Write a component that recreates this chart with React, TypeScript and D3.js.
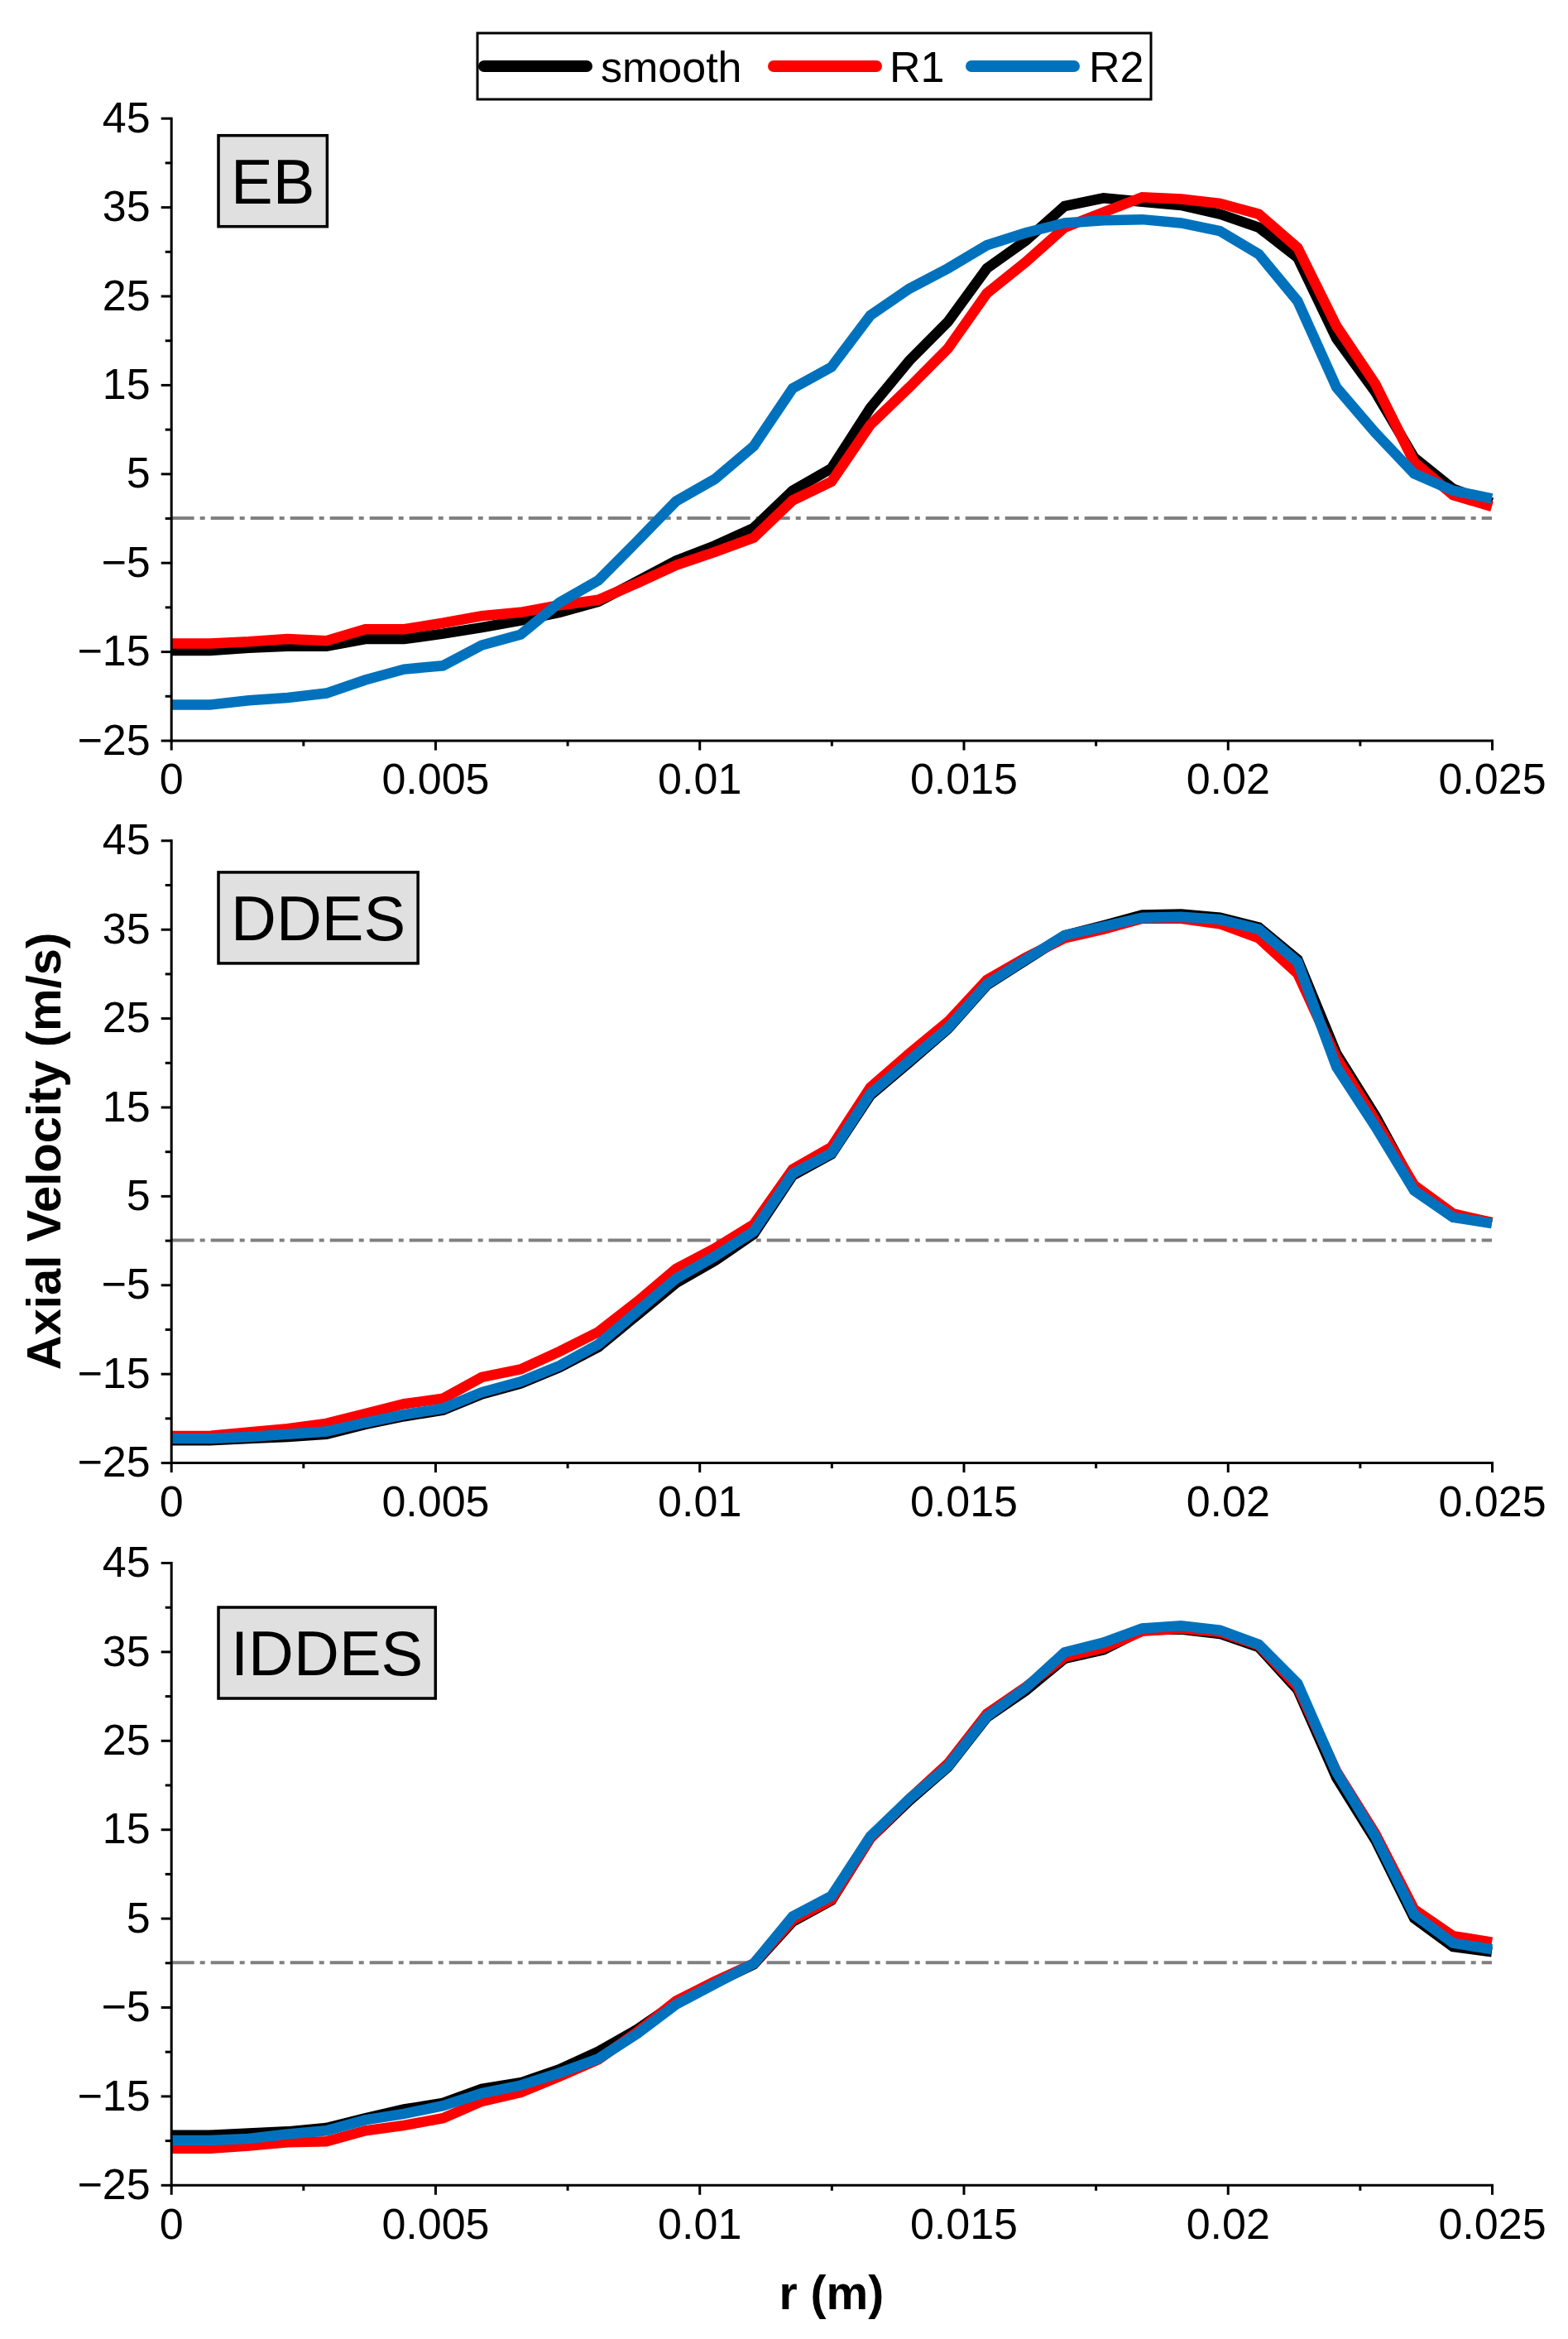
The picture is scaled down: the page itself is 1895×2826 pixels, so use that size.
import * as d3 from 'd3';
import { useEffect, useRef } from 'react';

// radial positions (m)
const rValues = [
  0, 0.000735, 0.00147, 0.002206, 0.002941, 0.003676, 0.004412, 0.005147, 0.005882, 0.006618, 0.007353, 0.008088,
  0.008824, 0.009559, 0.010294, 0.011029, 0.011765, 0.0125, 0.013235, 0.013971, 0.014706, 0.015441, 0.016176,
  0.016912, 0.017647, 0.018382, 0.019118, 0.019853, 0.020588, 0.021324, 0.022059, 0.022794, 0.023529, 0.024265, 0.025,
];

const seriesNames = ['smooth', 'R1', 'R2'];
const seriesColors = ['#000000', '#ff0000', '#0072bd'];
const panelNames = ['EB', 'DDES', 'IDDES'];

const ebSmooth = [
  -14.9, -14.9, -14.6, -14.4, -14.4, -13.6, -13.6, -13.0, -12.3, -11.5, -10.6, -9.4, -7.1, -4.8, -3.1, -1.1, 3.1, 5.6,
  12.4, 17.7, 22.1, 28.1, 31.2, 35.1, 36.0, 35.6, 35.2, 34.2, 32.7, 29.3, 20.2, 14.2, 6.8, 3.3, 1.7,
];
const ebR1 = [
  -14.1, -14.1, -13.9, -13.6, -13.8, -12.5, -12.5, -11.8, -11.0, -10.6, -9.8, -9.2, -7.3, -5.3, -3.8, -2.2, 2.0, 4.1,
  10.5, 14.7, 19.1, 25.3, 28.8, 32.7, 34.4, 36.1, 35.9, 35.4, 34.2, 30.4, 21.6, 15.1, 6.3, 2.6, 1.3,
];
const ebR2 = [
  -21.0, -21.0, -20.5, -20.2, -19.7, -18.2, -17.0, -16.6, -14.3, -13.1, -9.5, -7.0, -2.6, 1.9, 4.4, 8.1, 14.6, 17.0,
  22.8, 25.8, 28.1, 30.7, 32.1, 33.2, 33.5, 33.6, 33.2, 32.3, 29.7, 24.4, 14.7, 9.6, 5.0, 3.1, 2.2,
];

const ddesSmooth = [
  -22.5, -22.5, -22.3, -22.1, -21.8, -20.7, -19.8, -19.1, -17.3, -16.1, -14.3, -12.0, -8.4, -4.8, -2.3, 0.7, 7.3, 9.7,
  16.3, 20.0, 23.8, 28.7, 31.5, 34.3, 35.4, 36.6, 36.7, 36.3, 35.2, 31.6, 21.0, 14.0, 6.0, 2.8, 2.0,
];
const ddesR1 = [
  -22.0, -22.0, -21.6, -21.2, -20.6, -19.5, -18.4, -17.8, -15.4, -14.5, -12.5, -10.3, -6.9, -3.2, -0.9, 1.8, 8.0, 10.5,
  17.2, 21.0, 24.6, 29.3, 31.8, 34.0, 35.0, 36.2, 36.2, 35.6, 34.0, 30.0, 20.5, 13.5, 6.2, 3.0, 2.0,
];
const ddesR2 = [
  -22.3, -22.3, -22.1, -21.8, -21.5, -20.5, -19.6, -18.9, -17.1, -15.9, -14.1, -11.7, -8.0, -4.3, -1.8, 1.0, 7.5, 9.8,
  16.5, 20.2, 23.9, 28.8, 31.6, 34.3, 35.3, 36.3, 36.4, 36.1, 35.0, 31.3, 19.5, 12.8, 5.6, 2.6, 1.9,
];

const iddesSmooth = [
  -19.4, -19.4, -19.2, -19.0, -18.6, -17.5, -16.5, -15.8, -14.2, -13.5, -12.0, -10.0, -7.5, -4.5, -2.3, -0.2, 4.6, 7.0,
  14.0, 18.2, 22.0, 27.6, 30.6, 34.2, 35.2, 37.4, 37.5, 37.0, 35.5, 30.7, 20.8, 13.8, 5.0, 1.8, 1.2,
];
const iddesR1 = [
  -20.9, -20.9, -20.6, -20.2, -20.1, -18.9, -18.3, -17.5, -15.6, -14.6, -12.8, -10.9, -7.8, -4.3, -2.1, -0.1, 4.8, 7.1,
  14.0, 18.4, 22.4, 28.0, 31.0, 34.4, 35.4, 37.3, 37.6, 37.2, 35.7, 31.0, 21.5, 14.5, 6.0, 3.0, 2.3,
];
const iddesR2 = [
  -20.0, -20.0, -19.8, -19.3, -18.9, -17.7, -17.0, -16.1, -14.7, -13.8, -12.4, -10.8, -8.0, -4.7, -2.4, -0.1, 5.2, 7.5,
  14.2, 18.4, 22.1, 27.7, 30.9, 34.9, 36.0, 37.6, 37.9, 37.4, 35.8, 31.4, 21.4, 14.2, 5.4, 2.2, 1.5,
];

const panelSeries = [
  [ebSmooth, ebR1, ebR2],
  [ddesSmooth, ddesR1, ddesR2],
  [iddesSmooth, iddesR1, iddesR2],
];

const xTicks = [0, 0.005, 0.01, 0.015, 0.02, 0.025];
const xMinorTicks = [0.0025, 0.0075, 0.0125, 0.0175, 0.0225];
const yTicks = [-25, -15, -5, 5, 15, 25, 35, 45];
const yMinorTicks = [-20, -10, 0, 10, 20, 30, 40];

const FONT = "'Liberation Sans', Arial, sans-serif";

export default function App() {
  const ref = useRef<SVGSVGElement | null>(null);

  useEffect(() => {
    const width = 1895;
    const height = 2826;
    const left = 206.7;
    const right = 1803;
    const panelTops = [142.7, 1015.3, 1888];
    const panelH = 751.8;
    const boxOffsets = [21, 38.6, 54];

    const svg = d3.select(ref.current);
    svg.selectAll('*').remove();
    svg.attr('viewBox', `0 0 ${width} ${height}`).attr('width', width).attr('height', height);
    svg.append('rect').attr('width', width).attr('height', height).attr('fill', '#ffffff');

    const x = d3.scaleLinear().domain([0, 0.025]).range([left, right]);

    panelTops.forEach((top, p) => {
      const y = d3.scaleLinear().domain([-25, 45]).range([top + panelH, top]);
      const g = svg.append('g');

      // zero reference line
      g.append('line')
        .attr('x1', x(0))
        .attr('x2', x(0.025))
        .attr('y1', y(0))
        .attr('y2', y(0))
        .attr('stroke', '#808080')
        .attr('stroke-width', 4)
        .attr('stroke-dasharray', '28 7 6 7');

      const line = d3
        .line<number>()
        .x((_, i) => x(rValues[i]))
        .y((d) => y(d));

      panelSeries[p].forEach((vals, s) => {
        g.append('path')
          .datum(vals)
          .attr('d', line)
          .attr('fill', 'none')
          .attr('stroke', seriesColors[s])
          .attr('stroke-width', 12.5)
          .attr('stroke-linejoin', 'miter')
          .attr('stroke-miterlimit', 4);
      });

      // axes
      const yAxis = g
        .append('g')
        .attr('transform', `translate(${left},0)`)
        .call(d3.axisLeft(y).tickValues(yTicks).tickSize(12).tickSizeOuter(0).tickPadding(13).tickFormat(d3.format('d')));
      const yMinor = g
        .append('g')
        .attr('transform', `translate(${left},0)`)
        .call(d3.axisLeft(y).tickValues(yMinorTicks).tickSize(7).tickSizeOuter(0).tickFormat(() => ''));
      yMinor.select('.domain').remove();

      const xAxis = g
        .append('g')
        .attr('transform', `translate(0,${top + panelH})`)
        .call(
          d3
            .axisBottom(x)
            .tickValues(xTicks)
            .tickSize(12)
            .tickSizeOuter(0)
            .tickPadding(16)
            .tickFormat((d) => d3.format('~g')(d as number)),
        );
      const xMinor = g
        .append('g')
        .attr('transform', `translate(0,${top + panelH})`)
        .call(d3.axisBottom(x).tickValues(xMinorTicks).tickSize(7).tickSizeOuter(0).tickFormat(() => ''));
      xMinor.select('.domain').remove();

      [yAxis, yMinor, xAxis, xMinor].forEach((a) => {
        a.selectAll('.domain').attr('stroke', '#000').attr('stroke-width', 3).attr('stroke-linecap', 'square');
        a.selectAll('.tick line').attr('stroke', '#000').attr('stroke-width', 3);
        a.selectAll('text').attr('font-size', 52).attr('font-family', FONT).attr('fill', '#000');
      });

      // panel label box
      const bx = 264;
      const by = top + boxOffsets[p];
      const boxG = g.append('g');
      const box = boxG
        .append('rect')
        .attr('x', bx)
        .attr('y', by)
        .attr('height', 110)
        .attr('fill', '#e0e0e0')
        .attr('stroke', '#000')
        .attr('stroke-width', 3.5);
      const txt = boxG
        .append('text')
        .attr('font-family', FONT)
        .attr('font-size', 76)
        .attr('text-anchor', 'middle')
        .text(panelNames[p]);
      const tw = (txt.node() as SVGTextElement).getComputedTextLength();
      const bw = tw + 30;
      box.attr('width', bw);
      txt.attr('x', bx + bw / 2).attr('y', by + 55 + 0.358 * 76);
    });

    // legend
    const legend = svg.append('g');
    legend
      .append('rect')
      .attr('x', 577)
      .attr('y', 40)
      .attr('width', 814)
      .attr('height', 80)
      .attr('fill', '#fff')
      .attr('stroke', '#000')
      .attr('stroke-width', 3);
    const legendLineX = [585, 935, 1174];
    const legendTextX = [726, 1075, 1316];
    seriesNames.forEach((name, i) => {
      legend
        .append('line')
        .attr('x1', legendLineX[i])
        .attr('x2', legendLineX[i] + 124)
        .attr('y1', 80)
        .attr('y2', 80)
        .attr('stroke', seriesColors[i])
        .attr('stroke-width', 14)
        .attr('stroke-linecap', 'round');
      legend
        .append('text')
        .attr('x', legendTextX[i])
        .attr('y', 99)
        .attr('font-family', FONT)
        .attr('font-size', 52)
        .text(name);
    });

    // axis titles
    svg
      .append('text')
      .attr('transform', `translate(73,1391) rotate(-90)`)
      .attr('text-anchor', 'middle')
      .attr('font-family', FONT)
      .attr('font-weight', 'bold')
      .attr('font-size', 58)
      .text('Axial Velocity (m/s)');
    svg
      .append('text')
      .attr('x', (left + right) / 2)
      .attr('y', 2790)
      .attr('text-anchor', 'middle')
      .attr('font-family', FONT)
      .attr('font-weight', 'bold')
      .attr('font-size', 57)
      .text('r (m)');
  }, []);

  return <svg ref={ref} style={{ position: 'absolute', left: 0, top: 0, display: 'block' }} role="img" aria-label="Axial velocity profiles" />;
}
